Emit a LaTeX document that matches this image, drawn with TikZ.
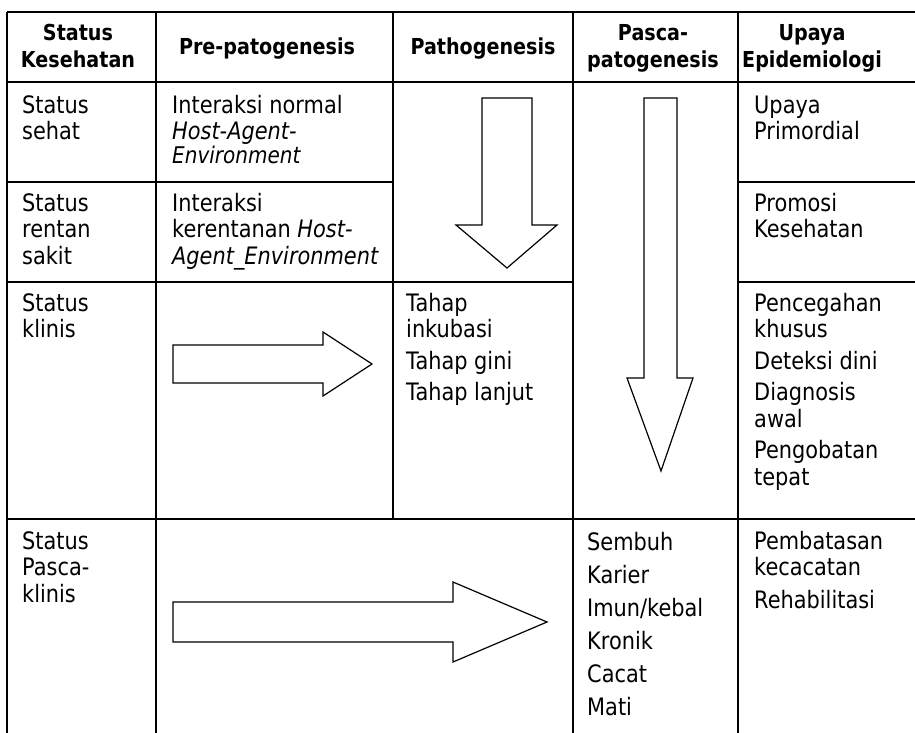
\documentclass[tikz,border=0pt]{standalone}
\usepackage{fontspec}
\setmainfont[FakeStretch=0.87]{DejaVu Sans}
\newcommand\bodyfont{\fontsize{24}{26.5}\selectfont}
\newcommand\envfont{\fontsize{23}{24}\selectfont}
\newcommand\headfont{\fontsize{22}{27}\selectfont\bfseries}
% fixed first-line height, so that a cell's top sits 20pt above its first baseline
\newcommand\fl{\rule{0pt}{20pt}}
\newcommand\hfl{\rule{0pt}{18pt}}
\begin{document}
\begin{tikzpicture}[x=1pt,y=-1pt,
  rule/.style={line width=1.8pt},
  cell/.style={anchor=north west, inner sep=0pt, align=left, font=\bodyfont},
  line1/.style={anchor=base west, inner sep=0pt, font=\envfont},
  head/.style={anchor=north, inner sep=0pt, align=center, font=\headfont},
  head1/.style={anchor=base, inner sep=0pt, font=\headfont},
  blockarrow/.style={draw, line width=1.2pt, fill=white, line join=miter}]
\useasboundingbox (0,0) rectangle (915,733);
\fill[white] (0,0) rectangle (915,733);

% table rules
\draw[rule] (7,12) -- (915,12);
\draw[rule] (7,82) -- (915,82);
\draw[rule] (7,182) -- (393,182);
\draw[rule] (738,182) -- (915,182);
\draw[rule] (7,282) -- (573,282);
\draw[rule] (738,282) -- (915,282);
\draw[rule] (7,519) -- (915,519);
\draw[rule] (7,12) -- (7,733);
\draw[rule] (156,12) -- (156,733);
\draw[rule] (393,12) -- (393,519);
\draw[rule] (573,12) -- (573,733);
\draw[rule] (738,12) -- (738,733);

% block arrows
\draw[blockarrow] (482,98) -- (532,98) -- (532,225) -- (557,225) -- (507,268)
  -- (456,225) -- (482,225) -- cycle;
\draw[blockarrow] (644,98) -- (677,98) -- (677,378) -- (693,378) -- (661,471)
  -- (627,378) -- (644,378) -- cycle;
\draw[blockarrow] (173,345) -- (323,345) -- (323,332) -- (372,364) -- (323,396)
  -- (323,383) -- (173,383) -- cycle;
\draw[blockarrow] (173,602) -- (453,602) -- (453,582) -- (547,622) -- (453,662)
  -- (453,642) -- (173,642) -- cycle;

% header
\node[head] (hStatus) at (78,22) {\hfl Status\\Kesehatan};
\node[head1] (hPre) at (267,55) {Pre-patogenesis};
\node[head1] (hPath) at (483,55) {Pathogenesis};
\node[head] (hPasca) at (653,22) {\hfl Pasca-\\patogenesis};
\node[head] (hUpaya) at (812,22) {\hfl Upaya\\Epidemiologi};

% row: sehat
\node[cell] (s1) at (22,93) {\fl Status\\sehat};
\node[cell] (i1) at (172,93) {\fl Interaksi normal\\\textit{Host-Agent-}};
\node[line1] (i1b) at (172,163) {\textit{Environment}};
\node[cell] (u1) at (754,93) {\fl Upaya\\Primordial};

% row: rentan sakit
\node[cell] (s2) at (22,191) {\fl Status\\rentan\\sakit};
\node[cell] (i2) at (172,191) {\fl Interaksi\\kerentanan \textit{Host-}\\\textit{Agent\_Environment}};
\node[cell] (u2) at (754,191) {\fl Promosi\\Kesehatan};

% row: klinis
\node[cell] (s3) at (22,291) {\fl Status\\klinis};
\node[cell] (p3) at (406,291) {\fl Tahap\\inkubasi\\[5pt]Tahap gini\\[5pt]Tahap lanjut};
\node[cell] (u3) at (754,291) {\fl Pencegahan\\khusus\\[5pt]Deteksi dini\\[5pt]Diagnosis\\awal\\[5pt]Pengobatan\\tepat};

% row: pasca-klinis
\node[cell] (s4) at (22,529) {\fl Status\\Pasca-\\klinis};
\node[cell] (o4) at (587,530) {\fl Sembuh\\[6.5pt]Karier\\[6.5pt]Imun/kebal\\[6.5pt]Kronik\\[6.5pt]Cacat\\[6.5pt]Mati};
\node[cell] (u4) at (754,529) {\fl Pembatasan\\kecacatan\\[6pt]Rehabilitasi};
\end{tikzpicture}
\end{document}
